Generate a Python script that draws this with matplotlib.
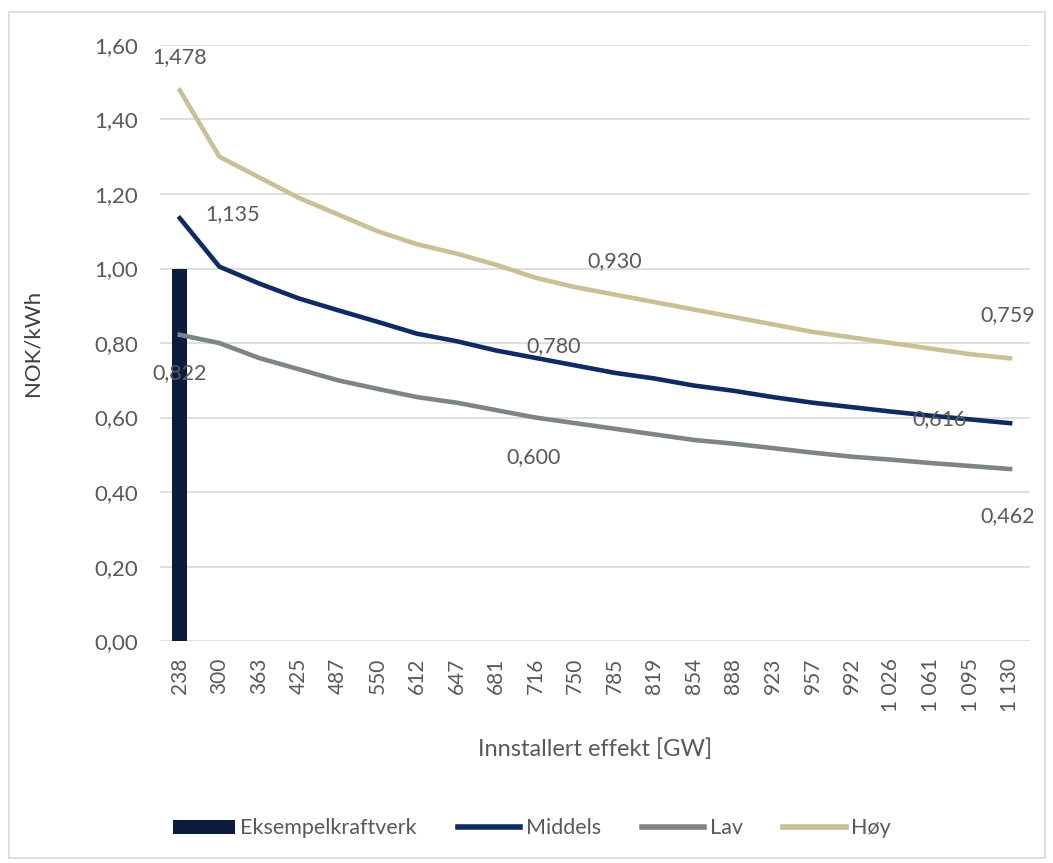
import numpy as np
import matplotlib.pyplot as plt
from matplotlib.patches import Rectangle

plt.rcParams['font.family'] = ['Lato', 'DejaVu Sans']

# data
effekt = ['238', '300', '363', '425', '487', '550', '612', '647', '681', '716', '750',
          '785', '819', '854', '888', '923', '957', '992', '1 026', '1 061', '1 095', '1 130']
eksempel = [1.0]
middels = [1.135, 1.005, 0.960, 0.920, 0.888, 0.857, 0.825, 0.805, 0.780, 0.760, 0.740,
           0.720, 0.705, 0.686, 0.672, 0.655, 0.640, 0.628, 0.616, 0.605, 0.595, 0.585]
lav = [0.822, 0.800, 0.760, 0.730, 0.700, 0.677, 0.655, 0.640, 0.620, 0.600, 0.585,
       0.570, 0.555, 0.540, 0.530, 0.518, 0.506, 0.495, 0.487, 0.478, 0.470, 0.462]
hoy = [1.478, 1.300, 1.245, 1.190, 1.145, 1.100, 1.065, 1.040, 1.010, 0.975, 0.950,
       0.930, 0.910, 0.890, 0.870, 0.850, 0.830, 0.815, 0.800, 0.785, 0.770, 0.759]

c_bar = '#0b1c3d'
c_mid = '#0f2b64'
c_lav = '#7e8588'
c_hoy = '#c9c095'
txt = '#595959'

x = np.arange(len(effekt))

fig = plt.figure(figsize=(10.53, 8.63), dpi=100)
ax = fig.add_axes([0.152, 0.257, 0.826, 0.691])

b = ax.bar(x[:1], eksempel, width=0.38, color=c_bar, label='Eksempelkraftverk', zorder=2)
l1, = ax.plot(x, middels, color=c_mid, lw=3.3, label='Middels', zorder=3)
l2, = ax.plot(x, lav, color=c_lav, lw=3.3, label='Lav', zorder=3)
l3, = ax.plot(x, hoy, color=c_hoy, lw=3.3, label='Høy', zorder=3)

# data labels: (series, index, dx px, dy px)
labels = [(hoy, 0, 0, 33), (middels, 0, 53, 4), (lav, 0, 0, -38),
          (hoy, 11, 0, 33), (middels, 8, 58, 4), (lav, 9, -2, -40),
          (middels, 18, 48, -7), (hoy, 21, -2, 43), (lav, 21, -2, -47)]
for s, i, dx, dy in labels:
    ax.annotate(f'{s[i]:.3f}'.replace('.', ','), (x[i], s[i]), xytext=(dx, dy),
                textcoords='offset pixels', ha='center', va='center',
                fontsize=15.5, color=txt, zorder=4)

ax.set_xlim(-0.5, len(effekt) - 0.5)
ax.set_ylim(0, 1.6)
ax.set_yticks(np.arange(0, 1.61, 0.2))
ax.set_yticklabels([f'{v:.2f}'.replace('.', ',') for v in np.arange(0, 1.61, 0.2)])
ax.set_xticks(x)
ax.set_xticklabels(effekt, rotation=90)
ax.tick_params(length=0, labelsize=15, colors=txt)
ax.tick_params(axis='y', labelsize=16, pad=16)
ax.tick_params(axis='x', pad=12)
ax.grid(axis='y', color='#d9d9d9', lw=1.2, zorder=0)
for sp in ax.spines.values():
    sp.set_visible(False)

ax.set_ylabel('NOK/kWh', fontsize=16, color='#404040')
ax.yaxis.set_label_coords(-0.135, 0.5)
ax.set_xlabel('Innstallert effekt [GW]', fontsize=17, color=txt)
ax.xaxis.set_label_coords(0.5, -0.163)

leg = fig.legend([b, l1, l2, l3], ['Eksempelkraftverk', 'Middels', 'Lav', 'Høy'],
                 loc='center', bbox_to_anchor=(0.505, 0.04), ncol=4, frameon=False,
                 fontsize=15.5, labelcolor=txt, handlelength=2.9, handleheight=0.6,
                 columnspacing=1.9, handletextpad=0.25)
for h in leg.legend_handles[1:]:
    h.set_linewidth(4)

fig.patches.append(Rectangle((0.009, 0.006), 0.983, 0.98, transform=fig.transFigure,
                             fill=False, edgecolor='#d9d9d9', lw=1.2))

fig.savefig('out.png', dpi=100)
